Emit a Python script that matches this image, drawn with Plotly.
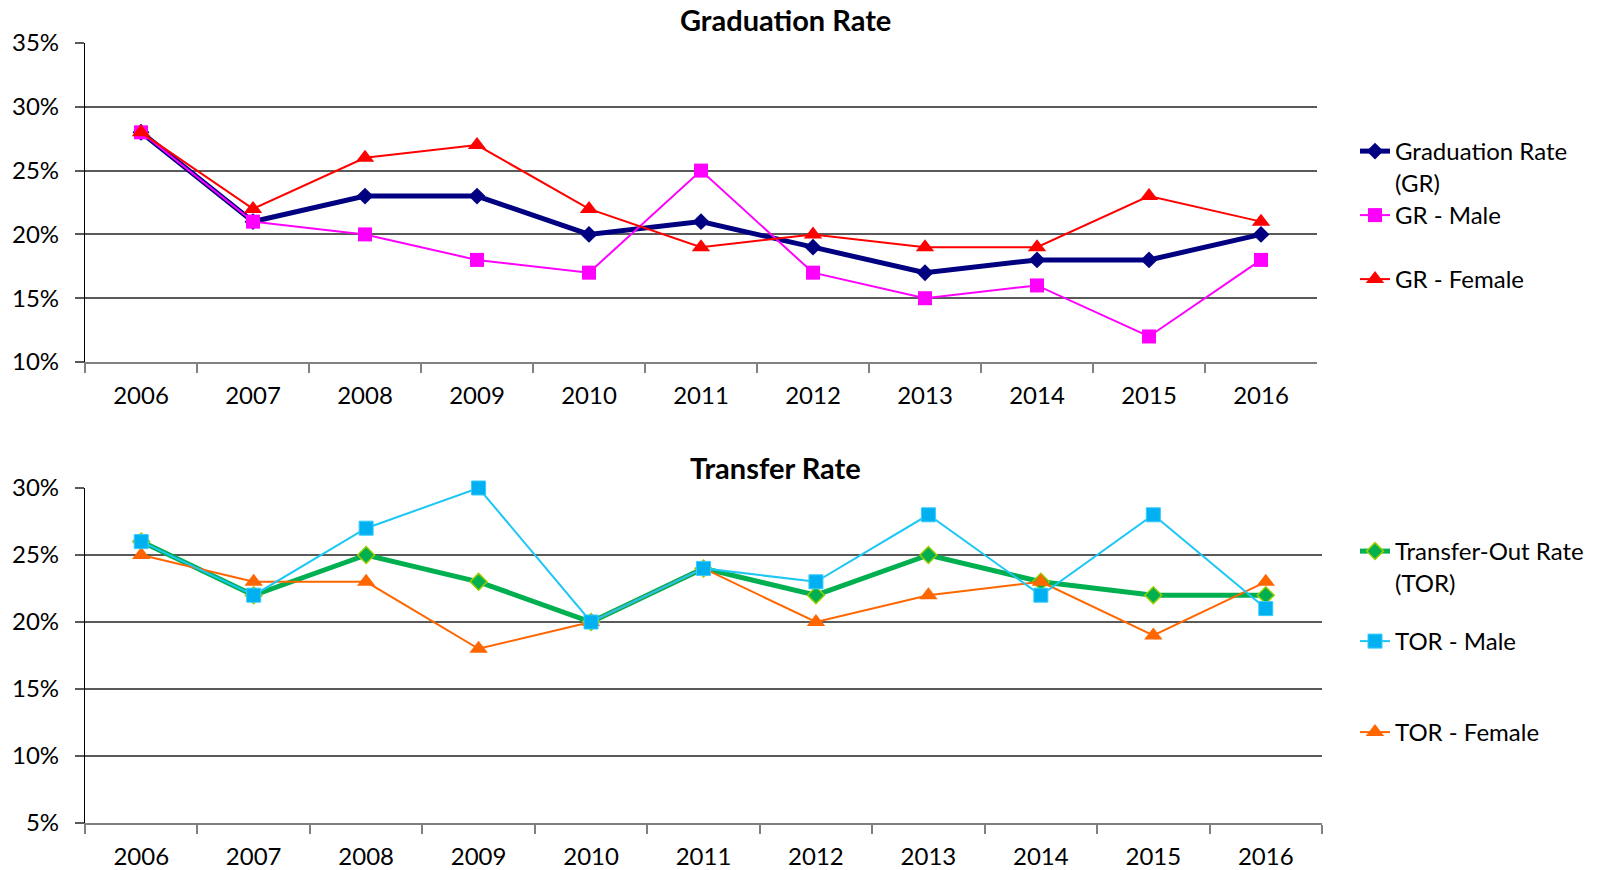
import plotly.graph_objects as go

W, H = 1604, 870

years = ["2006", "2007", "2008", "2009", "2010", "2011", "2012", "2013", "2014", "2015", "2016"]

gr_total = [28, 21, 23, 23, 20, 21, 19, 17, 18, 18, 20]
gr_male = [28, 21, 20, 18, 17, 25, 17, 15, 16, 12, 18]
gr_female = [28, 22, 26, 27, 22, 19, 20, 19, 19, 23, 21]

tor_total = [26, 22, 25, 23, 20, 24, 22, 25, 23, 22, 22]
tor_male = [26, 22, 27, 30, 20, 24, 23, 28, 22, 28, 21]
tor_female = [25, 23, 23, 18, 20, 24, 20, 22, 23, 19, 23]

top_ticks = [10, 15, 20, 25, 30, 35]
top_labels = ["10%", "15%", "20%", "25%", "30%", "35%"]
bottom_ticks = [5, 10, 15, 20, 25, 30]
bottom_labels = ["5%", "10%", "15%", "20%", "25%", "30%"]

FONT = "Lato"
GRID = "#5a5a5a"


def px(x):
    return x / W


def py(y):
    return 1 - y / H


fig = go.Figure()

# ---- top chart ----
fig.add_trace(go.Scatter(
    x=years, y=gr_total, name="Graduation Rate<br>(GR)", mode="lines+markers",
    line=dict(color="#000080", width=5),
    marker=dict(symbol="diamond", size=13, color="#000080"),
    xaxis="x", yaxis="y", legend="legend", cliponaxis=False))
fig.add_trace(go.Scatter(
    x=years, y=gr_male, name="GR - Male", mode="lines+markers",
    line=dict(color="#FF00FF", width=2),
    marker=dict(symbol="square", size=14, color="#FF00FF"),
    xaxis="x", yaxis="y", legend="legend2", cliponaxis=False))
fig.add_trace(go.Scatter(
    x=years, y=gr_female, name="GR - Female", mode="lines+markers",
    line=dict(color="#FF0000", width=2),
    marker=dict(symbol="triangle-up", size=16, color="#FF0000"),
    xaxis="x", yaxis="y", legend="legend3", cliponaxis=False))

# ---- bottom chart ----
fig.add_trace(go.Scatter(
    x=years, y=tor_total, name="Transfer-Out Rate<br>(TOR)", mode="lines+markers",
    line=dict(color="#00B050", width=5),
    marker=dict(symbol="diamond", size=13, color="#00B050", line=dict(color="#9ACD00", width=1.5)),
    xaxis="x2", yaxis="y2", legend="legend4", cliponaxis=False))
fig.add_trace(go.Scatter(
    x=years, y=tor_female, name="TOR - Female", mode="lines+markers",
    line=dict(color="#FF6600", width=2),
    marker=dict(symbol="triangle-up", size=16, color="#FF6600"),
    xaxis="x2", yaxis="y2", legend="legend6", cliponaxis=False))
fig.add_trace(go.Scatter(
    x=years, y=tor_male, name="TOR - Male", mode="lines+markers",
    line=dict(color="#1CC7F5", width=2),
    marker=dict(symbol="square", size=14, color="#00B0F0", line=dict(color="#33CCFF", width=1)),
    xaxis="x2", yaxis="y2", legend="legend5", cliponaxis=False))

axis_font = dict(family=FONT, size=24, color="#000000")

xcommon = dict(
    type="category", range=[-0.5, len(years) - 0.5], tickson="boundaries",
    ticks="outside", ticklen=9,
    tickcolor="#808080", tickwidth=1.5, showline=True, linecolor="#808080", linewidth=1.5,
    showgrid=False, tickfont=axis_font, automargin=False, ticklabelstandoff=11,
    fixedrange=True,
)
ycommon = dict(
    tickmode="array", ticks="outside", ticklen=9, tickcolor=GRID, tickwidth=1.5,
    showgrid=True, gridcolor=GRID, gridwidth=1.5, showline=True, linecolor="#000000",
    linewidth=1.2, zeroline=False, tickfont=axis_font,
    automargin=False, ticklabelstandoff=11, fixedrange=True,
)

legend_common = dict(
    font=dict(family=FONT, size=24, color="#000000"), bgcolor="rgba(0,0,0,0)",
    borderwidth=0, valign="top", xanchor="left", yanchor="top",
    tracegroupgap=0, itemclick=False, itemdoubleclick=False,
)

lx = px(1355)

fig.update_layout(
    width=W, height=H,
    margin=dict(l=0, r=0, t=0, b=0),
    paper_bgcolor="white", plot_bgcolor="white",
    font=dict(family=FONT, color="#000000"),
    showlegend=True,
    xaxis=dict(domain=[px(85), px(1317)], anchor="y", **xcommon),
    yaxis=dict(domain=[py(362), py(43)], anchor="x", range=[10, 35],
               tickvals=top_ticks, ticktext=top_labels, **ycommon),
    xaxis2=dict(domain=[px(85), px(1322)], anchor="y2", **xcommon),
    yaxis2=dict(domain=[py(823), py(488)], anchor="x2", range=[5, 30],
                tickvals=bottom_ticks, ticktext=bottom_labels, **ycommon),
    legend=dict(x=lx, y=py(129), **legend_common),
    legend2=dict(x=lx, y=py(193), **legend_common),
    legend3=dict(x=lx, y=py(257), **legend_common),
    legend4=dict(x=lx, y=py(529), **legend_common),
    legend5=dict(x=lx, y=py(619), **legend_common),
    legend6=dict(x=lx, y=py(710), **legend_common),
    annotations=[
        dict(text="<b>Graduation Rate</b>", x=px(768 * 1.023), y=py(20), xref="paper", yref="paper",
             xanchor="center", yanchor="middle", showarrow=False,
             font=dict(family=FONT, size=29, color="#000000")),
        dict(text="<b>Transfer Rate</b>", x=px(758 * 1.023), y=py(468), xref="paper", yref="paper",
             xanchor="center", yanchor="middle", showarrow=False,
             font=dict(family=FONT, size=29, color="#000000")),
    ],
)

fig.write_html(
    "out.html",
    config={"displayModeBar": False},
    post_script="document.body.style.margin='0';document.body.style.overflow='hidden';",
)
